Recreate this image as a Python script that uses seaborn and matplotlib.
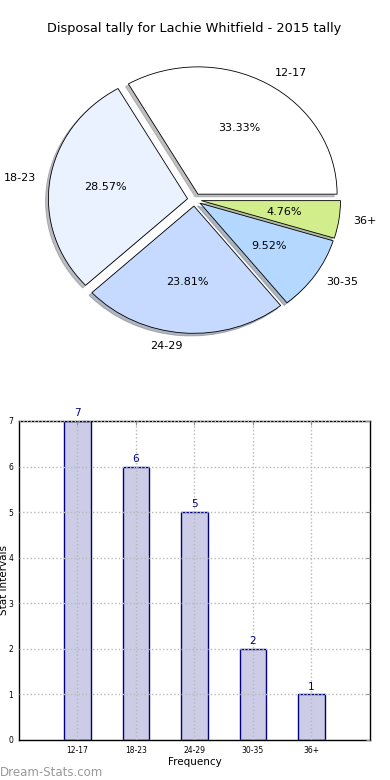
import matplotlib
matplotlib.use("Agg")
import matplotlib.pyplot as plt
import seaborn as sns
import pandas as pd

# --- data ---
intervals = ["12-17", "18-23", "24-29", "30-35", "36+"]
tally = [7, 6, 5, 2, 1]
pie_colors = ["#ffffff", "#eaf1ff", "#c6d9ff", "#b4d8ff", "#d1ed8c"]
title = "Disposal tally for Lachie Whitfield - 2015 tally"

sns.set_style("white")
plt.rcParams['font.family'] = ['DejaVu Sans']
plt.rcParams['text.color'] = 'black'
plt.rcParams['axes.labelcolor'] = 'black'
plt.rcParams['xtick.color'] = 'black'
plt.rcParams['ytick.color'] = 'black'

fig = plt.figure(figsize=(3.9, 7.8), dpi=100)

# --- pie ---
ax1 = fig.add_axes([0.0526, 0.540, 0.892, 0.408])
ax1.pie(tally, labels=intervals, colors=pie_colors, explode=[0.05] * len(tally),
        autopct='%1.2f%%', startangle=0,
        shadow={'ox': -0.015, 'oy': -0.015, 'shade': 0.5},
        wedgeprops={'edgecolor': 'black', 'linewidth': 0.6},
        textprops={'fontsize': 8})
ax1.set_aspect('auto')
ax1.set_xlim(-1.25, 1.25)
ax1.set_ylim(-1.25, 1.25)
ax1.set_title(title, fontsize=9.3, pad=6)

# --- bars ---
ax2 = fig.add_axes([0.0487, 0.0513, 0.9, 0.409])
df = pd.DataFrame({'interval': intervals, 'count': tally})
sns.barplot(data=df, x='interval', y='count', ax=ax2, width=0.45, color='#cccce6',
            saturation=1, edgecolor='navy', linewidth=1)
ax2.bar_label(ax2.containers[0], color='navy', fontsize=7.5, padding=2)
ax2.set_xlim(-1, 5)
ax2.set_ylim(0, 7)
ax2.set_yticks(range(0, 8))
ax2.tick_params(labelsize=5.5, direction='in', length=3, width=0.8, color='#909090',
                top=True, right=True, pad=4)
ax2.grid(True, color='#b8b8b8', linestyle=':', linewidth=1)
ax2.set_axisbelow(False)
for s in ax2.spines.values():
    s.set_color('black')
    s.set_linewidth(1)
ax2.set_xlabel('Frequency', fontsize=7.5, labelpad=2)
ax2.set_ylabel('Stat intervals', fontsize=7.5)
ax2.yaxis.set_label_coords(-0.028, 0.5)

fig.text(0.0, 0.005, 'Dream-Stats.com', color='#999999', fontsize=8.5)

fig.savefig('out.png', dpi=100)
